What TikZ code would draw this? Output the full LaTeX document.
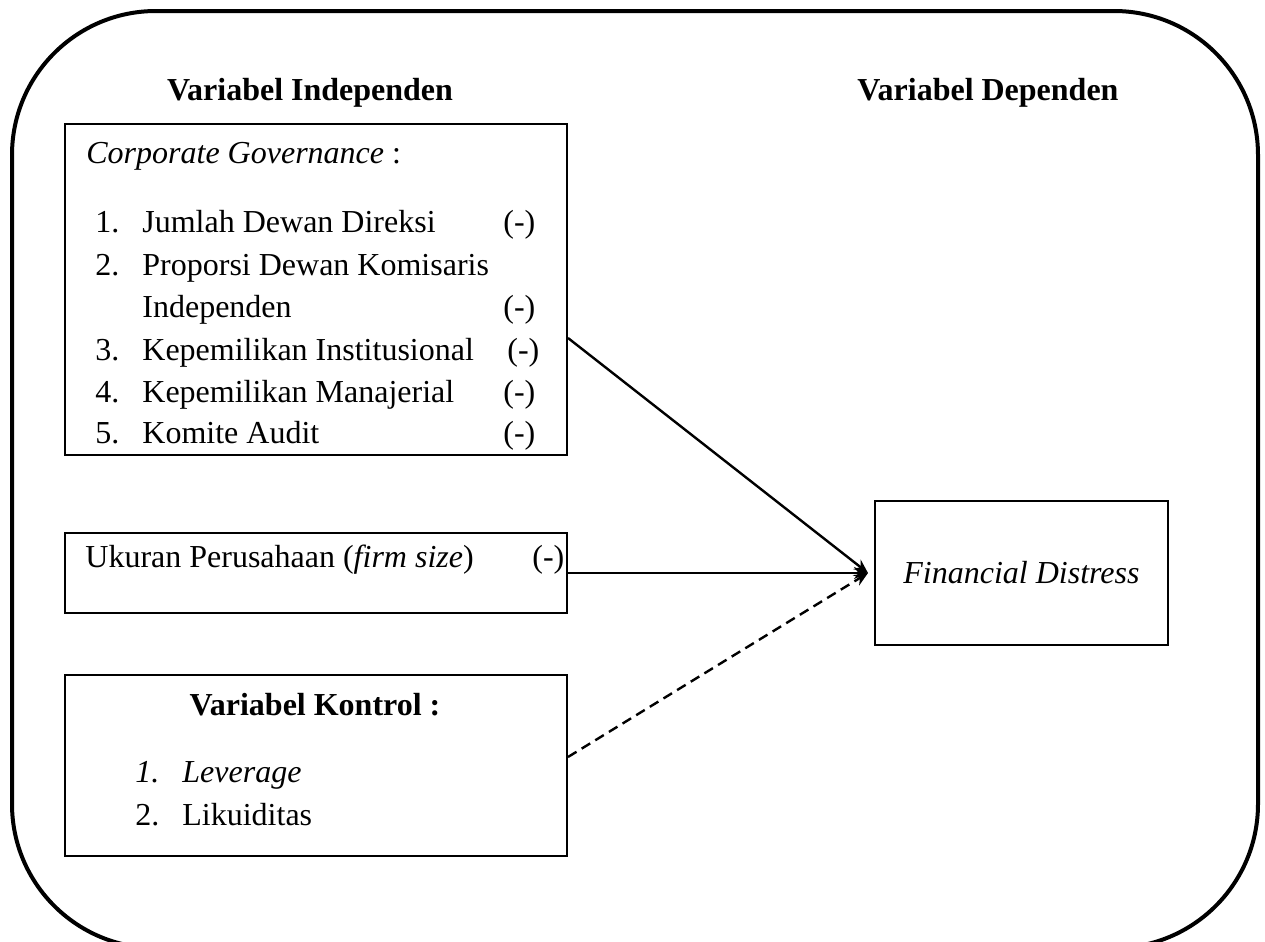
\documentclass[tikz,border=0pt]{standalone}
\usepackage{fontspec}
\setmainfont{Liberation Serif}
\usetikzlibrary{arrows.meta}
\begin{document}
\begin{tikzpicture}[>={Stealth[length=7pt,width=6pt]},x=0.5pt,y=-0.5pt,
		font=\fontsize{16pt}{21pt}\selectfont,
		box/.style={draw,line width=1pt,inner sep=0pt,minimum width=251pt},
		txt/.style={anchor=base west,inner sep=0pt},
		head/.style={anchor=base,inner sep=0pt,font=\fontsize{16pt}{21pt}\selectfont\bfseries},
		arr/.style={->,line width=1.2pt}]
		\useasboundingbox (0,0) rectangle (1265,942);
		\clip (0,0) rectangle (1265,942);
		\draw[line width=2pt,rounded corners=72pt] (12,11) rectangle (1258,948); % bingkai luar
		\node[head] (hind) at (310,100) {Variabel Independen};
		\node[head] (hdep) at (988,100) {Variabel Dependen};
		% kotak corporate governance
		\node[box,minimum height=165.5pt] (cg) at (316,289.5) {};
		\node[txt] (cgt) at (86,163) {\textit{Corporate Governance} :};
		\node[txt] (n1) at (95,232) {1.};
		\node[txt] (t1) at (142,232) {Jumlah Dewan Direksi};
		\node[txt] (s1) at (503,232) {(-)};
		\node[txt] (n2) at (95,275) {2.};
		\node[txt] (t2) at (142,275) {Proporsi Dewan Komisaris};
		\node[txt] (t2b) at (142,317) {Independen};
		\node[txt] (s2) at (503,317) {(-)};
		\node[txt] (n3) at (95,360) {3.};
		\node[txt] (t3) at (142,360) {Kepemilikan Institusional};
		\node[txt] (s3) at (507,360) {(-)};
		\node[txt] (n4) at (95,402) {4.};
		\node[txt] (t4) at (142,402) {Kepemilikan Manajerial};
		\node[txt] (s4) at (503,402) {(-)};
		\node[txt] (n5) at (95,443) {5.};
		\node[txt] (t5) at (142,443) {Komite Audit};
		\node[txt] (s5) at (503,443) {(-)};
		% kotak ukuran perusahaan
		\node[box,minimum height=40pt] (uk) at (316,573) {};
		\node[txt] (ukt) at (85,567) {Ukuran Perusahaan (\textit{firm size})};
		\node[txt] (uks) at (532,567) {(-)};
		% kotak variabel kontrol
		\node[box,minimum height=90.5pt] (kt) at (316,765.5) {};
		\node[head] (ktt) at (315,715) {Variabel Kontrol :};
		\node[txt] (kn1) at (135,782) {\textit{1.}};
		\node[txt] (kt1) at (182,782) {\textit{Leverage}};
		\node[txt] (kn2) at (135,825) {2.};
		\node[txt] (kt2) at (182,825) {Likuiditas};
		% kotak financial distress
		\node[box,minimum width=146.5pt,minimum height=72pt] (fd) at (1021.5,573) {};
		\node[inner sep=0pt] (fdt) at (fd) {\textit{Financial Distress}};
		\coordinate (cgout) at (cg.east |- 0,338);
		\coordinate (ktout) at (kt.east |- 0,757);
		\coordinate (fdin) at ([xshift=-3pt]fd.west);
		\draw[arr] (cgout) -- (fdin);
		\draw[arr] (uk) -- (fdin);
		\draw[arr,dash pattern=on 5pt off 3pt] (ktout) -- (fdin);
\end{tikzpicture}
\end{document}
